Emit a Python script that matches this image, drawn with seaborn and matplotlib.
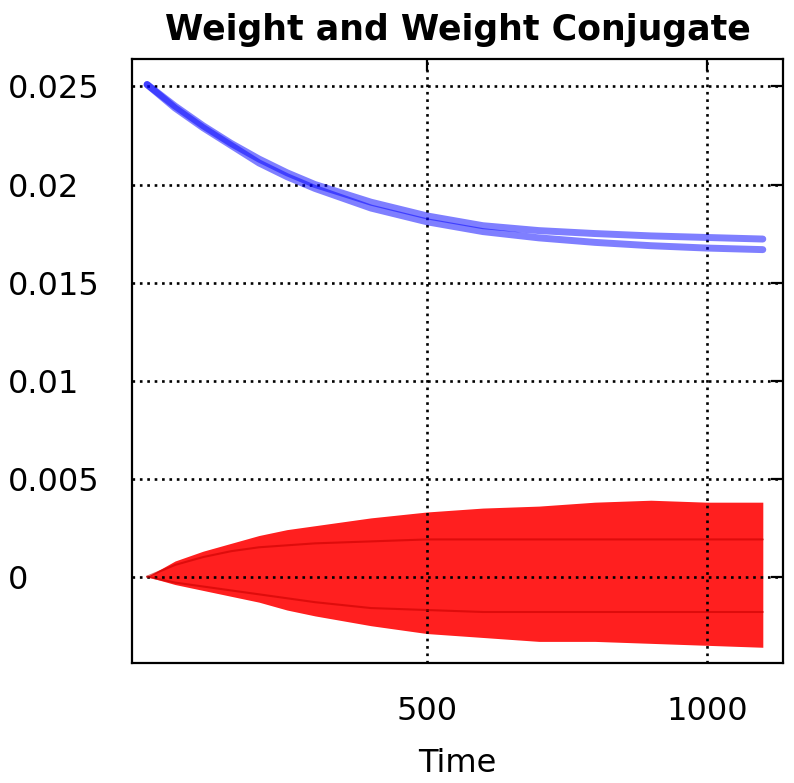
import numpy as np
import matplotlib
matplotlib.use("Agg")
import matplotlib.pyplot as plt
import seaborn as sns
from matplotlib.ticker import FixedLocator, FuncFormatter

# ------------------------------------------------------------------
# Values
# ------------------------------------------------------------------
time = [0, 50, 100, 150, 200, 250, 300, 400, 500, 600, 700, 800, 900, 1000, 1100]

weight_upper = [0.0251, 0.0240, 0.0230, 0.0221, 0.0213, 0.0206, 0.0200, 0.0191,
                0.0184, 0.0179, 0.01765, 0.01750, 0.01738, 0.0173, 0.01722]
weight_lower = [0.0251, 0.0239, 0.0229, 0.0220, 0.0211, 0.0204, 0.0198, 0.0188,
                0.0181, 0.0176, 0.01728, 0.01705, 0.01688, 0.01676, 0.01668]

# conjugate oscillates quickly, so only its envelope and the denser inner tracks are kept
conj_top = [0.0, 0.0008, 0.0013, 0.0017, 0.0021, 0.0024, 0.0026, 0.0030,
            0.0033, 0.0035, 0.0036, 0.0038, 0.0039, 0.0038, 0.0038]
conj_bottom = [0.0, -0.0004, -0.0007, -0.0010, -0.0013, -0.0017, -0.0020, -0.0025,
               -0.0029, -0.0031, -0.0033, -0.0033, -0.0034, -0.0035, -0.0036]
conj_inner_top = [0.0, 0.0006, 0.0010, 0.0013, 0.0015, 0.0016, 0.0017, 0.0018,
                  0.0019, 0.0019, 0.0019, 0.0019, 0.0019, 0.0019, 0.0019]
conj_inner_bottom = [0.0, -0.0003, -0.0005, -0.0007, -0.0009, -0.0011, -0.0013, -0.0016,
                     -0.0017, -0.0018, -0.0018, -0.0018, -0.0018, -0.0018, -0.0018]

x_ticks = [500, 1000]
y_ticks = [0, 0.005, 0.01, 0.015, 0.02, 0.025]

# ------------------------------------------------------------------
# Styling
# ------------------------------------------------------------------
sns.set_theme(style="white")
plt.rcParams["font.family"] = ["DejaVu Sans"]

fig = plt.figure(figsize=(7.94, 7.83), dpi=100)
ax = fig.add_axes([0.1662, 0.1533, 0.9861 - 0.1662, 0.9246 - 0.1533])

# conjugate band (red)
ax.fill_between(time, conj_bottom, conj_top, color="#ff0000", alpha=0.88,
                linewidth=0, zorder=2)
sns.lineplot(x=time, y=conj_inner_top, ax=ax, color="#c80000", lw=1.5, alpha=0.6, zorder=3)
sns.lineplot(x=time, y=conj_inner_bottom, ax=ax, color="#c80000", lw=1.5, alpha=0.6, zorder=3)

# weight (blue), two close tracks
sns.lineplot(x=time, y=weight_upper, ax=ax, color="#0000ff", lw=5, alpha=0.5, zorder=4)
sns.lineplot(x=time, y=weight_lower, ax=ax, color="#0000ff", lw=5, alpha=0.5, zorder=4)

ax.set_xlim(-27, 1136)
ax.set_ylim(-0.0044, 0.0264)

ax.xaxis.set_major_locator(FixedLocator(x_ticks))
ax.yaxis.set_major_locator(FixedLocator(y_ticks))
ax.yaxis.set_major_formatter(FuncFormatter(lambda v, p: f"{v:g}"))

ax.grid(True, color="black", linestyle=(0, (1.0, 1.8)), linewidth=1.9)
ax.set_axisbelow(False)

for sp in ax.spines.values():
    sp.set_color("black")
    sp.set_linewidth(1.6)
    sp.set_zorder(5)

ax.tick_params(axis="both", direction="in", length=8.5, width=1.6, color="black",
               top=True, right=True, labelsize=23, labelcolor="black")
ax.tick_params(axis="y", pad=89)
ax.tick_params(axis="x", pad=24)
for lab in ax.get_yticklabels():
    lab.set_horizontalalignment("left")

ax.set_xlabel("Time", fontsize=23, color="black", labelpad=15)
ax.set_ylabel("")
ax.set_title("Weight and Weight Conjugate", fontsize=25, fontweight="bold",
             color="black", pad=14)

fig.savefig("out.png", dpi=100, facecolor="white")
